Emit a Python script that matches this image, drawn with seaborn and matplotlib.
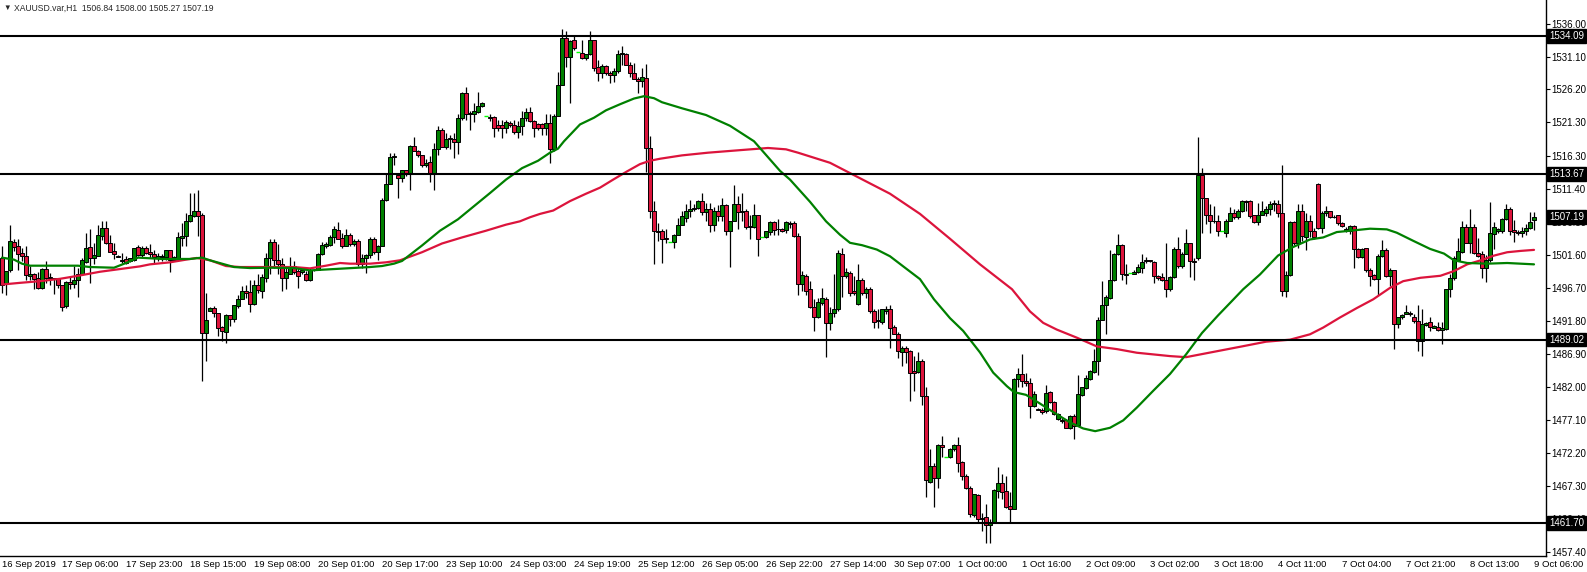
import matplotlib
matplotlib.use("Agg")
import matplotlib.pyplot as plt
import matplotlib.transforms as mtransforms
import numpy as np
import pandas as pd
import seaborn as sns

# hourly candles (bar 0 = 16 Sep, last = 9 Oct 06:00)
opens = [
    1501.2, 1497.3, 1499.3, 1503.5, 1502.9, 1501.9, 1501.5, 1498.4, 1498.7, 1498.2,
    1496.7, 1499.5, 1498.3, 1498.1, 1498.1, 1497.1, 1494.0, 1497.6, 1497.3, 1497.8,
    1498.7, 1500.6, 1502.8, 1501.2, 1501.5, 1504.4, 1505.6, 1503.3, 1502.2, 1501.5,
    1500.9, 1501.0, 1500.7, 1500.9, 1502.8, 1501.6, 1502.7, 1502.0, 1501.8, 1501.2,
    1501.3, 1501.3, 1502.3, 1500.9, 1501.2, 1504.1, 1504.4, 1506.7, 1507.4, 1508.2,
    1507.5, 1490.0, 1493.3, 1493.7, 1492.9, 1490.9, 1490.2, 1492.6, 1492.1, 1494.0,
    1495.1, 1496.2, 1496.1, 1494.3, 1497.1, 1496.3, 1498.2, 1501.1, 1503.5, 1500.8,
    1500.3, 1498.2, 1498.8, 1500.0, 1499.2, 1499.0, 1498.8, 1497.8, 1499.3, 1499.4,
    1501.7, 1502.9, 1503.1, 1504.2, 1505.3, 1504.1, 1503.0, 1504.6, 1503.2, 1503.6,
    1500.3, 1501.1, 1501.6, 1504.0, 1502.0, 1502.9, 1509.7, 1512.2, 1516.1, 1513.5,
    1513.1, 1514.2, 1513.7, 1517.8, 1517.1, 1516.4, 1514.9, 1515.4, 1513.8, 1517.4,
    1520.2, 1517.7, 1518.9, 1518.8, 1518.4, 1521.9, 1525.7, 1522.6, 1522.6, 1522.9,
    1523.7, 1522.2, 1522.1, 1522.1, 1520.9, 1520.9, 1520.5, 1521.2, 1520.9, 1519.9,
    1520.7, 1522.0, 1522.8, 1521.5, 1521.0, 1521.0, 1520.4, 1521.2, 1517.3, 1522.3,
    1526.9, 1533.8, 1531.0, 1533.5, 1531.8, 1531.6, 1530.9, 1531.4, 1533.5, 1529.5,
    1528.7, 1529.7, 1528.7, 1528.3, 1528.9, 1531.4, 1531.4, 1529.9, 1528.7, 1527.8,
    1527.5, 1527.9, 1517.5, 1508.1, 1505.2, 1505.2, 1504.1, 1503.45, 1503.55, 1504.6,
    1506.1, 1507.1, 1508.2, 1508.5, 1508.6, 1509.6, 1508.0, 1508.5, 1506.1, 1508.1,
    1507.4, 1509.0, 1505.1, 1506.7, 1509.2, 1508.0, 1508.1, 1505.7, 1505.7, 1507.5,
    1504.3, 1504.3, 1505.0, 1506.5, 1505.5, 1505.4, 1505.3, 1506.3, 1506.4, 1504.4,
    1497.3, 1498.5, 1496.5, 1493.8, 1492.3, 1494.5, 1495.1, 1491.5, 1492.9, 1493.5,
    1501.8, 1498.4, 1498.9, 1496.2, 1494.3, 1497.8, 1496.0, 1496.5, 1493.3, 1491.9,
    1491.7, 1493.2, 1493.5, 1490.9, 1489.9, 1487.2, 1487.7, 1487.3, 1484.3, 1484.2,
    1485.8, 1480.6, 1467.9, 1470.2, 1468.5, 1473.3, 1471.5, 1471.5, 1472.7, 1473.3,
    1470.8, 1468.8, 1466.9, 1463.0, 1465.9, 1462.3, 1462.6, 1461.4, 1461.9, 1466.5,
    1467.7, 1466.5, 1464.3, 1463.9, 1483.2, 1483.9, 1482.9, 1482.5, 1479.1, 1478.7,
    1478.6, 1478.4, 1481.2, 1479.8, 1477.2, 1477.1, 1477.0, 1475.9, 1477.7, 1476.3,
    1480.8, 1481.8, 1483.2, 1484.2, 1485.8, 1492.0, 1494.1, 1495.2, 1497.9, 1501.7,
    1503.1, 1498.8, 1498.9, 1498.8, 1499.0, 1499.7, 1500.7, 1500.8, 1500.6, 1498.4,
    1498.3, 1497.9, 1496.5, 1498.3, 1502.5, 1500.0, 1501.8, 1503.3, 1500.7, 1501.1,
    1513.5, 1510.0, 1507.6, 1506.7, 1506.6, 1505.2, 1504.9, 1506.7, 1507.9, 1507.2,
    1508.1, 1509.6, 1509.6, 1507.5, 1506.5, 1507.6, 1507.9, 1508.4, 1509.2, 1509.1,
    1507.9, 1496.2, 1498.6, 1506.5, 1503.3, 1508.1, 1504.2, 1506.7, 1505.2, 1512.2,
    1505.6, 1507.9, 1508.1, 1507.3, 1507.5, 1506.4, 1505.5, 1505.1, 1505.9, 1502.5,
    1501.3, 1502.6, 1499.4, 1498.6, 1497.95, 1501.4, 1502.4, 1498.4, 1499.3, 1491.3,
    1492.3, 1492.85, 1493.0, 1492.4, 1491.8, 1488.8, 1491.2, 1491.6, 1490.8, 1490.9,
    1490.5, 1490.6, 1496.5, 1498.1, 1500.9, 1502.0, 1505.7, 1503.4, 1505.8, 1501.9,
    1501.8, 1499.7, 1500.8, 1504.7, 1505.1, 1505.2, 1506.9, 1508.5, 1505.3, 1505.0,
    1504.9, 1505.1, 1505.6, 1506.84,
]
highs = [
    1502.9, 1499.2, 1506.0, 1504.0, 1504.0, 1502.7, 1502.9, 1499.9, 1498.9, 1499.1,
    1499.7, 1500.7, 1498.9, 1498.2, 1498.2, 1497.2, 1497.7, 1498.5, 1499.9, 1499.7,
    1501.2, 1504.9, 1505.4, 1503.4, 1506.1, 1506.7, 1506.6, 1504.6, 1503.4, 1501.6,
    1501.9, 1501.4, 1501.2, 1502.7, 1503.1, 1502.9, 1502.9, 1503.2, 1502.3, 1501.9,
    1501.7, 1502.4, 1502.4, 1501.4, 1505.0, 1506.4, 1507.9, 1510.8, 1510.8, 1511.2,
    1507.9, 1496.0, 1493.8, 1494.0, 1493.0, 1491.0, 1492.8, 1492.7, 1494.2, 1495.7,
    1497.0, 1497.2, 1497.8, 1497.9, 1498.7, 1498.7, 1501.9, 1503.9, 1503.9, 1503.2,
    1501.2, 1499.9, 1501.3, 1500.7, 1499.8, 1499.3, 1499.2, 1499.7, 1499.5, 1501.9,
    1503.5, 1503.5, 1504.6, 1505.9, 1506.5, 1504.9, 1505.5, 1504.9, 1504.0, 1504.0,
    1501.7, 1501.7, 1504.2, 1504.2, 1503.1, 1510.1, 1513.6, 1516.8, 1516.8, 1513.8,
    1514.3, 1514.3, 1517.9, 1519.2, 1517.2, 1516.5, 1515.8, 1516.3, 1518.3, 1520.7,
    1520.5, 1519.7, 1519.5, 1519.7, 1522.5, 1525.8, 1526.5, 1523.0, 1524.2, 1525.8,
    1524.4, 1522.2, 1522.5, 1522.2, 1521.7, 1521.7, 1521.7, 1521.5, 1521.6, 1521.5,
    1523.0, 1523.5, 1523.6, 1521.7, 1521.2, 1521.2, 1522.5, 1522.5, 1522.6, 1528.8,
    1535.2, 1534.9, 1533.6, 1534.1, 1531.8, 1533.6, 1531.5, 1534.9, 1533.6, 1530.6,
    1530.0, 1529.9, 1528.9, 1529.4, 1532.0, 1532.6, 1531.6, 1530.3, 1530.1, 1528.0,
    1529.4, 1530.0, 1519.3, 1509.6, 1506.4, 1505.4, 1505.4, 1503.45, 1504.7, 1507.1,
    1508.2, 1509.2, 1509.8, 1509.1, 1509.8, 1510.8, 1509.3, 1509.3, 1508.7, 1509.0,
    1510.1, 1509.2, 1506.7, 1512.0, 1510.3, 1510.8, 1508.4, 1507.6, 1509.2, 1507.6,
    1504.3, 1505.2, 1506.6, 1506.6, 1506.9, 1505.6, 1506.6, 1506.6, 1506.6, 1504.9,
    1499.2, 1498.7, 1497.7, 1495.1, 1495.2, 1496.7, 1495.3, 1493.8, 1498.8, 1502.4,
    1502.7, 1499.7, 1499.2, 1498.4, 1500.3, 1498.1, 1496.9, 1496.9, 1493.5, 1493.5,
    1493.6, 1494.0, 1494.1, 1491.2, 1490.1, 1488.1, 1488.1, 1487.4, 1486.6, 1487.1,
    1486.1, 1481.9, 1472.7, 1470.7, 1473.5, 1474.7, 1471.5, 1472.9, 1473.5, 1474.5,
    1471.0, 1469.0, 1467.3, 1466.1, 1466.0, 1463.3, 1464.6, 1462.3, 1466.8, 1470.0,
    1469.0, 1468.7, 1466.4, 1483.3, 1484.8, 1486.9, 1484.1, 1483.3, 1481.3, 1478.8,
    1478.9, 1482.3, 1481.4, 1479.9, 1478.1, 1477.4, 1477.2, 1477.8, 1477.9, 1483.8,
    1482.0, 1483.8, 1484.5, 1487.6, 1492.3, 1497.7, 1495.7, 1502.4, 1501.9, 1504.7,
    1503.2, 1500.2, 1498.9, 1499.4, 1500.2, 1501.7, 1501.3, 1500.9, 1500.7, 1498.6,
    1498.9, 1503.3, 1498.4, 1502.8, 1504.2, 1502.1, 1505.4, 1503.4, 1501.1, 1519.1,
    1514.5, 1510.1, 1509.1, 1508.9, 1507.6, 1505.2, 1506.9, 1508.7, 1508.4, 1508.5,
    1509.7, 1509.7, 1509.7, 1507.6, 1509.3, 1509.6, 1508.9, 1509.6, 1509.8, 1509.7,
    1515.0, 1499.2, 1506.6, 1506.6, 1509.1, 1509.1, 1507.9, 1507.6, 1505.6, 1512.3,
    1508.1, 1508.9, 1508.2, 1507.5, 1507.6, 1506.5, 1505.7, 1506.1, 1506.1, 1502.6,
    1502.6, 1502.7, 1499.7, 1498.7, 1501.7, 1503.75, 1502.6, 1499.7, 1499.4, 1492.4,
    1492.8, 1494.2, 1493.3, 1492.75, 1494.2, 1493.6, 1491.6, 1492.3, 1491.2, 1491.6,
    1491.6, 1496.5, 1498.7, 1501.4, 1504.1, 1506.6, 1506.2, 1508.4, 1506.2, 1504.1,
    1502.2, 1501.6, 1509.5, 1506.5, 1505.6, 1507.1, 1509.1, 1508.7, 1506.8, 1505.3,
    1505.7, 1506.2, 1508.0, 1508.00,
]
lows = [
    1496.0, 1495.6, 1499.1, 1502.2, 1499.3, 1500.7, 1497.8, 1497.8, 1496.6, 1496.6,
    1496.6, 1497.5, 1497.2, 1495.8, 1496.7, 1493.2, 1493.7, 1496.6, 1496.7, 1495.4,
    1498.6, 1500.4, 1497.5, 1500.2, 1501.4, 1503.8, 1503.2, 1502.0, 1501.0, 1501.3,
    1500.4, 1500.2, 1500.6, 1500.7, 1501.4, 1501.3, 1501.7, 1501.2, 1500.4, 1500.7,
    1500.7, 1500.9, 1499.1, 1500.7, 1501.1, 1502.9, 1503.0, 1506.5, 1507.2, 1504.4,
    1482.8, 1485.8, 1493.2, 1492.3, 1489.5, 1488.8, 1488.5, 1491.0, 1491.7, 1493.7,
    1495.0, 1495.2, 1493.1, 1494.2, 1496.0, 1495.2, 1497.6, 1498.7, 1499.7, 1498.7,
    1496.3, 1496.5, 1498.7, 1498.7, 1496.7, 1498.7, 1497.7, 1497.7, 1499.2, 1499.3,
    1501.6, 1502.6, 1502.9, 1503.4, 1503.9, 1502.7, 1502.9, 1503.0, 1502.9, 1499.9,
    1499.7, 1498.9, 1501.2, 1501.8, 1500.9, 1502.9, 1509.6, 1512.1, 1515.0, 1510.1,
    1512.5, 1513.3, 1511.3, 1517.0, 1516.1, 1514.6, 1514.6, 1512.5, 1511.2, 1516.5,
    1517.6, 1517.4, 1517.3, 1516.0, 1516.6, 1521.7, 1521.7, 1520.2, 1521.4, 1522.7,
    1523.6, 1522.2, 1521.5, 1519.1, 1520.0, 1519.0, 1519.7, 1520.6, 1519.6, 1519.0,
    1519.5, 1521.5, 1521.3, 1519.1, 1520.2, 1519.5, 1519.5, 1515.3, 1517.0, 1522.2,
    1526.8, 1529.5, 1524.2, 1532.1, 1531.8, 1530.8, 1530.6, 1531.3, 1528.9, 1527.5,
    1527.9, 1528.3, 1527.2, 1527.3, 1528.7, 1529.9, 1529.8, 1528.0, 1527.7, 1525.7,
    1526.5, 1514.0, 1507.1, 1500.2, 1503.6, 1500.4, 1503.4, 1503.45, 1502.6, 1504.5,
    1506.0, 1506.5, 1507.2, 1508.1, 1508.4, 1507.5, 1506.6, 1505.0, 1505.2, 1506.6,
    1506.6, 1504.5, 1499.8, 1506.6, 1505.4, 1506.6, 1505.4, 1503.9, 1505.6, 1501.4,
    1504.3, 1504.1, 1504.6, 1504.6, 1504.5, 1505.0, 1504.9, 1505.6, 1504.2, 1495.6,
    1496.2, 1495.7, 1493.7, 1490.3, 1492.2, 1494.2, 1486.4, 1490.5, 1492.3, 1493.3,
    1495.3, 1498.2, 1495.5, 1495.7, 1494.2, 1495.6, 1495.2, 1493.0, 1490.8, 1490.8,
    1491.3, 1492.8, 1487.8, 1489.8, 1486.3, 1485.1, 1485.6, 1479.9, 1481.4, 1484.1,
    1479.3, 1465.6, 1467.7, 1464.1, 1467.0, 1471.6, 1471.5, 1471.4, 1472.5, 1469.4,
    1468.1, 1466.8, 1462.6, 1462.6, 1461.7, 1460.6, 1458.8, 1458.7, 1461.8, 1465.4,
    1465.3, 1464.0, 1461.7, 1463.8, 1481.9, 1482.0, 1482.1, 1477.3, 1479.0, 1478.5,
    1478.0, 1478.1, 1479.6, 1477.8, 1477.0, 1476.6, 1475.8, 1475.7, 1474.2, 1476.2,
    1480.6, 1481.6, 1483.0, 1484.1, 1483.7, 1491.9, 1489.8, 1495.1, 1497.7, 1501.6,
    1497.8, 1497.3, 1498.9, 1498.7, 1498.9, 1498.9, 1500.4, 1500.6, 1497.5, 1497.9,
    1497.7, 1495.4, 1496.2, 1498.2, 1499.7, 1499.7, 1501.7, 1498.3, 1497.9, 1500.9,
    1504.9, 1506.2, 1504.9, 1506.4, 1504.4, 1505.2, 1504.3, 1506.6, 1506.9, 1506.9,
    1508.0, 1508.1, 1507.1, 1506.4, 1506.1, 1507.5, 1507.4, 1507.5, 1508.1, 1507.2,
    1495.5, 1495.3, 1498.5, 1503.1, 1502.6, 1503.6, 1502.3, 1504.2, 1504.0, 1505.5,
    1504.9, 1507.4, 1507.1, 1507.1, 1506.0, 1505.7, 1505.0, 1504.7, 1499.7, 1501.2,
    1501.1, 1499.1, 1497.0, 1497.8, 1495.7, 1501.3, 1498.3, 1497.0, 1487.55, 1490.8,
    1492.1, 1492.75, 1492.5, 1491.5, 1487.3, 1486.6, 1491.0, 1490.3, 1490.7, 1490.3,
    1488.4, 1490.5, 1495.4, 1497.8, 1500.7, 1501.9, 1503.3, 1501.9, 1501.8, 1501.3,
    1498.1, 1497.6, 1500.6, 1502.5, 1504.9, 1504.9, 1506.8, 1504.6, 1503.5, 1504.6,
    1504.3, 1504.6, 1505.4, 1505.27,
]
closes = [
    1497.2, 1499.2, 1503.7, 1502.8, 1501.8, 1501.5, 1498.6, 1498.7, 1498.0, 1496.7,
    1499.5, 1498.2, 1498.1, 1498.0, 1497.1, 1493.9, 1497.6, 1497.3, 1497.9, 1498.7,
    1500.8, 1502.7, 1501.2, 1501.6, 1504.5, 1505.6, 1503.3, 1502.1, 1501.7, 1501.3,
    1500.7, 1500.4, 1501.2, 1502.6, 1501.6, 1502.6, 1501.9, 1501.8, 1501.3, 1501.4,
    1501.4, 1502.3, 1500.9, 1501.3, 1504.2, 1504.4, 1506.7, 1507.5, 1508.2, 1507.4,
    1490.0, 1491.9, 1493.7, 1492.9, 1490.8, 1490.3, 1492.7, 1492.1, 1494.1, 1495.1,
    1496.3, 1496.0, 1494.3, 1497.1, 1496.4, 1498.3, 1501.1, 1503.5, 1500.8, 1500.3,
    1498.2, 1499.0, 1500.0, 1499.1, 1498.4, 1499.3, 1497.8, 1499.3, 1499.4, 1501.7,
    1503.1, 1503.2, 1504.2, 1505.5, 1504.0, 1503.0, 1504.6, 1503.2, 1503.6, 1500.3,
    1501.2, 1501.6, 1504.0, 1502.0, 1503.0, 1509.8, 1512.2, 1516.1, 1516.3, 1513.1,
    1514.2, 1513.7, 1517.8, 1517.1, 1516.4, 1515.0, 1515.3, 1513.8, 1517.4, 1520.2,
    1517.7, 1518.9, 1519.0, 1518.4, 1521.9, 1525.7, 1522.6, 1522.7, 1523.0, 1523.7,
    1524.2, 1522.2, 1521.9, 1520.5, 1520.5, 1520.5, 1521.4, 1520.9, 1519.9, 1520.7,
    1522.0, 1522.8, 1521.5, 1520.5, 1520.5, 1520.4, 1521.2, 1517.3, 1522.3, 1526.8,
    1533.8, 1531.1, 1533.4, 1532.3, 1531.8, 1530.9, 1531.4, 1533.5, 1529.4, 1528.7,
    1529.7, 1528.7, 1528.4, 1528.9, 1531.4, 1531.6, 1529.9, 1528.7, 1527.8, 1527.5,
    1528.0, 1517.5, 1508.1, 1505.1, 1505.0, 1504.0, 1503.9, 1503.45, 1504.6, 1506.1,
    1507.4, 1508.2, 1508.5, 1508.6, 1509.6, 1508.0, 1508.5, 1506.1, 1508.1, 1507.4,
    1509.0, 1505.1, 1506.7, 1509.2, 1508.0, 1508.2, 1505.7, 1505.9, 1507.5, 1504.0,
    1504.3, 1505.1, 1506.5, 1505.3, 1505.4, 1505.2, 1506.5, 1506.2, 1504.4, 1497.3,
    1498.6, 1496.3, 1493.8, 1492.3, 1494.6, 1495.2, 1491.5, 1492.9, 1493.5, 1501.9,
    1498.4, 1499.0, 1496.0, 1496.0, 1497.8, 1496.0, 1496.5, 1493.2, 1491.7, 1491.8,
    1493.5, 1493.6, 1490.8, 1489.9, 1487.3, 1487.8, 1487.1, 1484.1, 1484.1, 1485.8,
    1480.6, 1468.1, 1470.2, 1468.4, 1473.3, 1473.1, 1471.5, 1472.7, 1473.3, 1470.7,
    1468.8, 1466.9, 1463.1, 1466.0, 1462.3, 1462.5, 1461.4, 1461.9, 1466.6, 1467.7,
    1466.4, 1464.1, 1463.8, 1483.2, 1483.9, 1482.9, 1482.5, 1479.1, 1480.9, 1478.6,
    1478.3, 1481.1, 1479.8, 1478.0, 1478.0, 1476.9, 1475.9, 1477.7, 1476.2, 1480.9,
    1481.9, 1483.3, 1484.3, 1485.8, 1492.0, 1494.1, 1495.3, 1497.9, 1501.7, 1503.1,
    1498.7, 1498.6, 1498.9, 1499.0, 1499.8, 1500.6, 1500.8, 1500.7, 1498.4, 1498.1,
    1497.9, 1496.5, 1498.3, 1502.5, 1500.0, 1501.8, 1503.3, 1500.7, 1500.5, 1513.5,
    1510.0, 1507.6, 1506.6, 1506.6, 1505.1, 1505.2, 1506.7, 1507.9, 1507.2, 1508.2,
    1509.6, 1509.5, 1507.4, 1506.5, 1507.6, 1508.1, 1508.5, 1509.2, 1509.3, 1507.9,
    1496.2, 1498.6, 1506.5, 1503.3, 1508.1, 1504.4, 1506.7, 1505.2, 1504.2, 1505.6,
    1507.9, 1508.1, 1507.2, 1507.2, 1506.4, 1505.9, 1505.1, 1505.9, 1502.5, 1501.3,
    1502.5, 1499.3, 1498.5, 1497.95, 1501.4, 1502.4, 1498.4, 1499.3, 1491.3, 1492.3,
    1492.65, 1493.15, 1492.75, 1491.8, 1488.8, 1491.3, 1491.5, 1490.9, 1491.1, 1490.5,
    1490.8, 1496.5, 1498.2, 1501.1, 1502.2, 1505.7, 1503.4, 1505.8, 1501.9, 1501.5,
    1499.7, 1500.8, 1504.9, 1505.7, 1505.4, 1506.9, 1508.4, 1505.2, 1505.0, 1504.8,
    1505.1, 1505.6, 1506.5, 1507.19,
]

# moving averages (bar position, price)
fast_ma_bar = [0, 3, 5, 7, 19, 22, 28, 31, 34, 40, 47, 50, 52, 55, 58, 62, 67, 73, 77, 83,
               92, 95, 98, 100, 105, 109.5, 114, 118, 122, 126, 130, 134, 137, 139, 140.5,
               144.5, 148, 151, 154.5, 158, 160.5, 163, 165, 170, 176, 182, 188, 194.5, 197,
               202, 206, 209.5, 212, 215, 218.7, 222, 225.3, 229.5, 233, 237, 240.3, 244.5,
               247.8, 251.2, 253, 256, 259.5, 263.7, 267, 270.3, 273.3, 277, 280.3, 283.7,
               287.8, 292, 296, 300, 304, 307.4, 310.3, 314.5, 319, 322.5, 327, 330.3, 333.7,
               338.7, 342, 346.2, 348.7, 352.8, 357, 360.5, 363, 366.3, 371.3, 376.3, 383]
fast_ma = [1501.2, 1500.9, 1500.3, 1500.0, 1500.0, 1499.8, 1499.7, 1500.4, 1501.2, 1501.0,
           1501.0, 1501.2, 1500.8, 1500.3, 1499.8, 1499.65, 1499.7, 1499.65, 1499.3, 1499.5,
           1499.8, 1499.95, 1500.3, 1500.7, 1503.0, 1505.2, 1506.9, 1508.85, 1510.8, 1512.8,
           1514.5, 1515.6, 1516.8, 1517.4, 1518.5, 1521.0, 1522.0, 1523.1, 1524.0, 1524.85,
           1525.2, 1524.9, 1524.3, 1523.4, 1522.4, 1520.8, 1518.5, 1514.1, 1512.8, 1509.5,
           1506.6, 1504.6, 1503.4, 1503.05, 1502.4, 1501.4, 1499.9, 1498.0, 1495.0, 1492.2,
           1490.3, 1487.1, 1484.1, 1482.1, 1481.2, 1480.8, 1479.5, 1477.9, 1476.7, 1475.8,
           1475.4, 1475.9, 1477.0, 1478.9, 1481.4, 1483.9, 1486.8, 1490.0, 1492.6, 1494.7,
           1496.5, 1498.7, 1501.5, 1502.7, 1503.9, 1504.2, 1505.0, 1505.3, 1505.5, 1505.4,
           1504.9, 1503.7, 1502.5, 1501.8, 1500.8, 1500.4, 1500.3, 1500.4, 1500.2]
slow_ma_bar = [0, 4.5, 9.5, 14.5, 19.5, 24.5, 29.5, 34.5, 37, 42, 46, 48.7, 52, 56, 59.5, 67,
               73, 77, 81, 84.5, 87, 92, 96, 99.5, 105, 110, 115, 121, 126, 129.5, 132, 134.5,
               137.8, 142, 146, 149.5, 152.8, 156.2, 159.5, 162, 164.5, 170, 176.5, 185, 191.5,
               196, 199, 207, 214.5, 222, 229.5, 237, 244.5, 252.5, 257, 260.3, 263.7, 268.7,
               273.7, 278.7, 283.7, 292, 296, 303, 310, 316, 322, 327, 330.3, 334.5, 338.7,
               342.8, 347, 350.3, 354.6, 359.6, 363, 366.3, 369.7, 373, 376.3, 379.7, 383]
slow_ma = [1497.2, 1497.45, 1497.7, 1498.05, 1498.55, 1499.1, 1499.5, 1499.9, 1500.2, 1500.5,
           1500.9, 1501.15, 1500.8, 1499.95, 1499.8, 1499.8, 1499.8, 1499.6, 1500.0, 1500.4,
           1500.3, 1500.3, 1500.5, 1500.8, 1502.0, 1503.3, 1504.2, 1505.2, 1506.1, 1506.6,
           1507.2, 1507.7, 1508.2, 1509.6, 1510.7, 1511.6, 1512.8, 1514.0, 1515.1, 1515.6,
           1515.9, 1516.4, 1516.8, 1517.2, 1517.5, 1517.3, 1516.8, 1515.3, 1513.0, 1510.7,
           1507.7, 1504.0, 1500.2, 1496.5, 1493.2, 1491.5, 1490.5, 1489.3, 1488.0, 1487.6,
           1487.06, 1486.56, 1486.4, 1487.2, 1488.0, 1488.7, 1489.0, 1489.8, 1490.8, 1492.3,
           1493.7, 1495.0, 1496.7, 1497.7, 1498.2, 1498.5, 1499.2, 1500.2, 1500.8, 1501.5,
           1502.0, 1502.2, 1502.35]

levels = [1534.09, 1513.67, 1489.02, 1461.70]
last_price = 1507.19
price_ticks = [1536.00, 1531.10, 1526.20, 1521.30, 1516.30, 1511.40, 1506.50, 1501.60,
               1496.70, 1491.80, 1486.90, 1482.00, 1477.10, 1472.20, 1467.30, 1462.40, 1457.40]
time_labels = ["16 Sep 2019", "17 Sep 06:00", "17 Sep 23:00", "18 Sep 15:00", "19 Sep 08:00",
               "20 Sep 01:00", "20 Sep 17:00", "23 Sep 10:00", "24 Sep 03:00", "24 Sep 19:00",
               "25 Sep 12:00", "26 Sep 05:00", "26 Sep 22:00", "27 Sep 14:00", "30 Sep 07:00",
               "1 Oct 00:00", "1 Oct 16:00", "2 Oct 09:00", "3 Oct 02:00", "3 Oct 18:00",
               "4 Oct 11:00", "7 Oct 04:00", "7 Oct 21:00", "8 Oct 13:00", "9 Oct 06:00"]
time_label_bars = [0, 15, 31, 47, 63, 79, 95, 111, 127, 143, 159, 175, 191, 207, 223, 239,
                   255, 271, 287, 303, 319, 335, 351, 367, 383]
header = "XAUUSD.var,H1  1506.84 1508.00 1505.27 1507.19"

W, H = 1587, 572
PLOT_R, PLOT_B = 1546, 556  # plot area in pixels

sns.set_theme(style="white")
plt.rcParams["font.family"] = ["Liberation Sans", "DejaVu Sans"]

df = pd.DataFrame({"open": opens, "high": highs, "low": lows, "close": closes})
df["bar"] = np.arange(len(df))
df["body_lo"] = df[["open", "close"]].min(axis=1)
df["body_h"] = (df["close"] - df["open"]).abs().clip(lower=0.06)
flat = df["open"] == df["close"]
up = (df["close"] > df["open"]) & ~flat
down = (df["close"] <= df["open"]) & ~flat

fig = plt.figure(figsize=(W / 100, H / 100), dpi=100)
ax = fig.add_axes([0, 1 - PLOT_B / H, PLOT_R / W, PLOT_B / H])
ax.set_facecolor("white")

# wicks + bodies
nf = df[~flat]
ax.vlines(nf["bar"], nf["low"], nf["high"], colors="black", linewidth=0.9, zorder=2)
for mask, fill in [(up, "#008000"), (down, "#dc143c")]:
    d = df[mask]
    ax.bar(d["bar"], d["body_h"], bottom=d["body_lo"], width=0.8, color=fill,
           edgecolor="black", linewidth=0.7, zorder=3)
d = df[flat]
ax.hlines(d["open"], d["bar"] - 0.45, d["bar"] + 0.45, colors="#00ff00", linewidth=1.0, zorder=3)

sns.lineplot(x=slow_ma_bar, y=slow_ma, ax=ax, color="#dc143c", linewidth=1.6, zorder=4)
sns.lineplot(x=fast_ma_bar, y=fast_ma, ax=ax, color="#008000", linewidth=1.6, zorder=4)

for lv in levels:
    ax.axhline(lv, color="black", linewidth=1.5, zorder=5)

ax.set_xlim(-0.5, 386.0)
ax.set_ylim(1456.84, 1539.50)
ax.set_xlabel("")
ax.set_ylabel("")

ax.yaxis.tick_right()
ax.set_yticks(price_ticks)
ax.set_yticklabels([f"{v:.2f}" for v in price_ticks])
ax.tick_params(axis="y", direction="out", length=3, width=0.8, colors="black",
               labelsize=7.0, pad=0.8, left=False, right=True)
ax.set_xticks(time_label_bars)
ax.set_xticklabels(time_labels, ha="left")
ax.tick_params(axis="x", direction="out", length=2, width=0.8, colors="black",
               labelsize=6.8, pad=1)

for side in ["top", "left"]:
    ax.spines[side].set_visible(False)
for side in ["right", "bottom"]:
    ax.spines[side].set_color("black")
    ax.spines[side].set_linewidth(1.0)

# price tags on the scale
tag_tr = mtransforms.offset_copy(ax.get_yaxis_transform(), fig=fig, x=3, y=0, units="dots")
for p in levels + [last_price]:
    ax.text(1.0, p, f"{p:.2f}", transform=tag_tr, ha="left", va="center", color="white",
            fontsize=7.0, clip_on=False, zorder=10,
            bbox=dict(boxstyle="square,pad=0.2", fc="black", ec="black"))

fig.text(3 / W, 1 - 8 / H, "\u25bc", fontsize=5.5, va="center", ha="left")
fig.text(14 / W, 1 - 8 / H, header, fontsize=6.2, va="center", ha="left")

fig.savefig("out.png", dpi=100, facecolor="white")
